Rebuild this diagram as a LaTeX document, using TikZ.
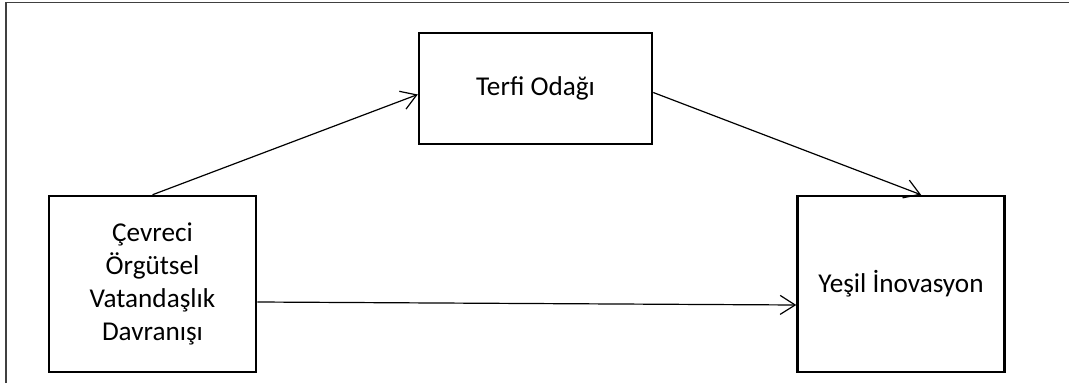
\documentclass[tikz,border=0pt]{standalone}
\usepackage{fontspec}
\setmainfont{Carlito}
\usetikzlibrary{positioning,arrows.meta}
\tikzset{
  kutu/.style={draw, line width=2.5bp, align=center, inner sep=0pt,
    font=\fontsize{27.3}{33}\selectfont},
  ok/.style={line width=1.2bp, -{Straight Barb[length=15bp,width=19bp]}}
}

\begin{document}
\begin{tikzpicture}[x=1bp, y=1bp]
            \useasboundingbox (0,0) rectangle (1069,383);
            % outer frame
            \draw[line width=1.5bp, black!75] (6,0) -- (6,380.5) -- (1069,380.5);

            \node (cevre) [kutu, minimum width=207bp, minimum height=176bp] at (152.5,99)
                {Çevreci\\Örgütsel\\Vatandaşlık\\Davranışı};
            \node (yesil) [kutu, minimum width=207bp, minimum height=176bp, right=539bp of cevre]
                {Yeşil İnovasyon};
            \node (terfi) [kutu, minimum width=233bp, minimum height=111bp] at (535.5,294.5)
                {Terfi Odağı};

            \draw[ok] (cevre.north) -- ([yshift=-6bp]terfi.west);
            \draw[ok] ([yshift=-4bp]terfi.east) -- ([xshift=20bp]yesil.north);
            \draw[ok] ([yshift=-18bp]cevre.east) -- ([yshift=-21bp]yesil.west);
        \end{tikzpicture}
\end{document}
